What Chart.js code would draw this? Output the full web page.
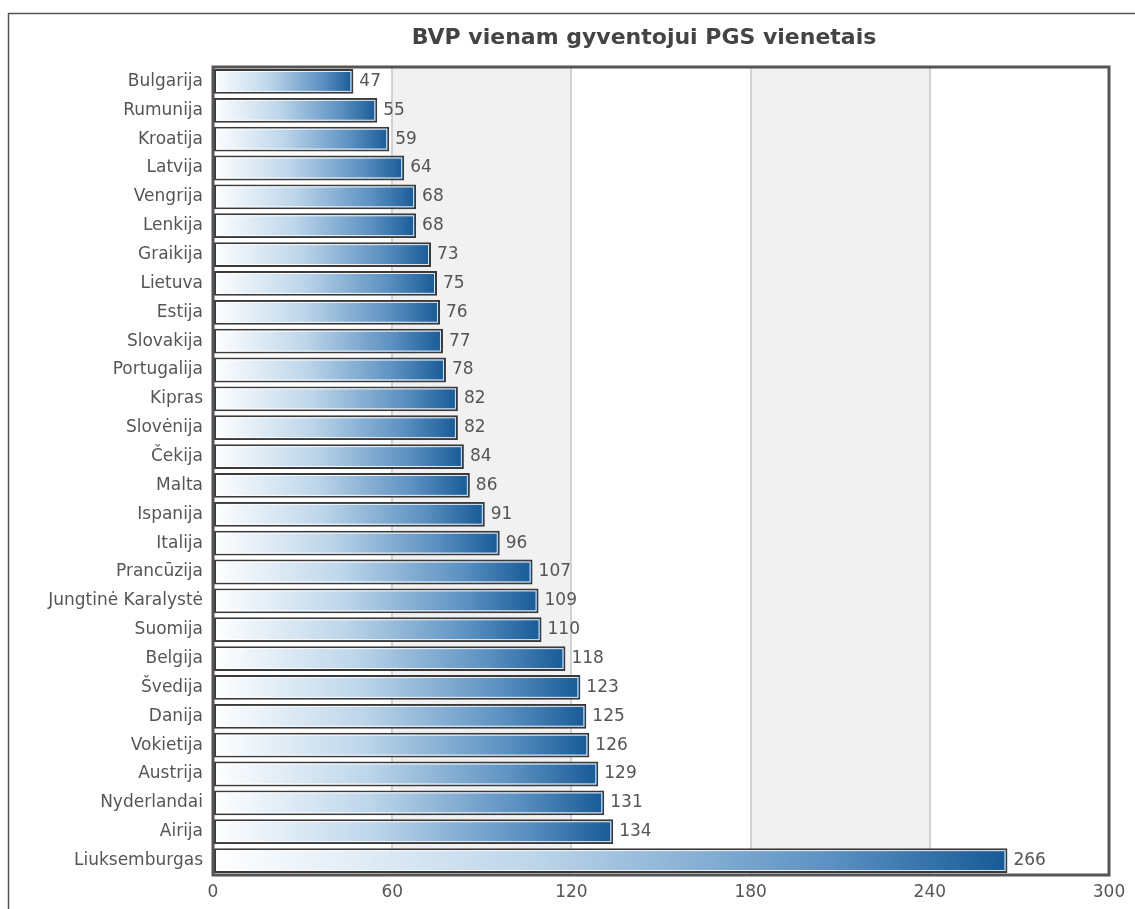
<!DOCTYPE html>
<html>
<head>
<meta charset="utf-8">
<script src="https://cdn.jsdelivr.net/npm/chart.js@4.4.0/dist/chart.umd.min.js"></script>
<style>
  html, body { margin: 0; padding: 0; background: #fff; }
  #wrap { width: 1135px; height: 909px; position: relative; }
</style>
</head>
<body>
<div id="wrap"><canvas id="chart"></canvas></div>
<script>
// Data
const titleText = 'BVP vienam gyventojui PGS vienetais';
const countries = ['Bulgarija', 'Rumunija', 'Kroatija', 'Latvija', 'Vengrija', 'Lenkija', 'Graikija',
    'Lietuva', 'Estija', 'Slovakija', 'Portugalija', 'Kipras', 'Slovėnija', 'Čekija', 'Malta',
    'Ispanija', 'Italija', 'Prancūzija', 'Jungtinė Karalystė', 'Suomija', 'Belgija', 'Švedija',
    'Danija', 'Vokietija', 'Austrija', 'Nyderlandai', 'Airija', 'Liuksemburgas'];
const gdpValues = [47, 55, 59, 64, 68, 68, 73, 75, 76, 77, 78, 82, 82, 84, 86, 91, 96,
    107, 109, 110, 118, 123, 125, 126, 129, 131, 134, 266];
const xTicks = [0, 60, 120, 180, 240, 300];

const FONT = '"DejaVu Sans", Verdana, sans-serif';

// Bar fill: gradient from white on the left to dark blue on the right
function barFill(ctx) {
    const chart = ctx.chart;
    if (!chart.chartArea || ctx.type !== 'data') return '#2a6aa5';
    const x = chart.scales.x;
    const x0 = x.getPixelForValue(0);
    const x1 = x.getPixelForValue(ctx.raw);
    const g = chart.ctx.createLinearGradient(x0, 0, x1, 0);
    g.addColorStop(0, '#ffffff');
    g.addColorStop(0.4, '#bdd6ea');
    g.addColorStop(0.78, '#5b90c1');
    g.addColorStop(1, '#175a96');
    return g;
}

const decorations = {
    id: 'decorations',
    beforeDraw(chart) {
        const { ctx, chartArea: a, scales: { x } } = chart;
        ctx.save();
        // outer frame
        ctx.strokeStyle = '#555';
        ctx.lineWidth = 1.5;
        ctx.strokeRect(8.5, 13.5, 2000, 2000);
        // alternating bands
        ctx.fillStyle = '#f1f1f1';
        for (let i = 1; i < xTicks.length - 1; i += 2) {
            const l = x.getPixelForValue(xTicks[i]);
            const r = x.getPixelForValue(xTicks[i + 1]);
            ctx.fillRect(l, a.top, r - l, a.bottom - a.top);
        }
        // title
        ctx.fillStyle = '#444';
        ctx.font = 'bold 22px ' + FONT;
        ctx.textAlign = 'center';
        ctx.textBaseline = 'alphabetic';
        ctx.fillText(titleText, 644, 44);
        ctx.restore();
    },
    afterDatasetsDraw(chart) {
        const { ctx } = chart;
        const meta = chart.getDatasetMeta(0);
        ctx.save();
        meta.data.forEach((bar, i) => {
            // inner light outline, like the bevelled bars of the original
            ctx.strokeStyle = 'rgba(255,255,255,0.85)';
            ctx.lineWidth = 1;
            const top = bar.y - bar.height / 2;
            ctx.strokeRect(bar.base + 2.5, top + 2.5, bar.x - bar.base - 5, bar.height - 5);
            // value label
            ctx.fillStyle = '#555';
            ctx.font = '17px ' + FONT;
            ctx.textAlign = 'left';
            ctx.textBaseline = 'middle';
            ctx.fillText(String(gdpValues[i]), bar.x + 6, bar.y);
        });
        ctx.restore();
    },
    afterDraw(chart) {
        const { ctx, chartArea: a } = chart;
        ctx.save();
        ctx.strokeStyle = '#555';
        ctx.lineWidth = 3;
        ctx.strokeRect(a.left, a.top, a.right - a.left, a.bottom - a.top);
        ctx.restore();
    }
};

new Chart(document.getElementById('chart'), {
    type: 'bar',
    data: {
        labels: countries,
        datasets: [{
            data: gdpValues,
            backgroundColor: barFill,
            borderColor: '#3a3a3a',
            borderWidth: 2,
            borderSkipped: false,
            barPercentage: 0.86,
            categoryPercentage: 1
        }]
    },
    options: {
        indexAxis: 'y',
        responsive: true,
        maintainAspectRatio: false,
        animation: false,
        layout: { padding: { left: 0, top: 67, right: 26, bottom: 0 } },
        scales: {
            x: {
                min: 0,
                max: 300,
                afterBuildTicks(scale) {
                    scale.ticks = xTicks.map(v => ({ value: v }));
                },
                afterFit(scale) { scale.height = 34; },
                grid: {
                    drawTicks: false,
                    lineWidth: 2,
                    color: c => (c.tick && (c.tick.value === 0 || c.tick.value === 300)) ? 'rgba(0,0,0,0)' : '#d2d2d2'
                },
                border: { display: false },
                ticks: {
                    padding: 7,
                    color: '#555',
                    font: { family: FONT, size: 17 }
                }
            },
            y: {
                afterFit(scale) { scale.width = 213; },
                grid: { display: false, drawTicks: false },
                border: { display: false },
                ticks: {
                    padding: 10,
                    color: '#555',
                    autoSkip: false,
                    font: { family: FONT, size: 17 }
                }
            }
        },
        plugins: {
            legend: { display: false },
            title: { display: false },
            tooltip: { enabled: false }
        }
    },
    plugins: [decorations]
});
</script>
</body>
</html>
